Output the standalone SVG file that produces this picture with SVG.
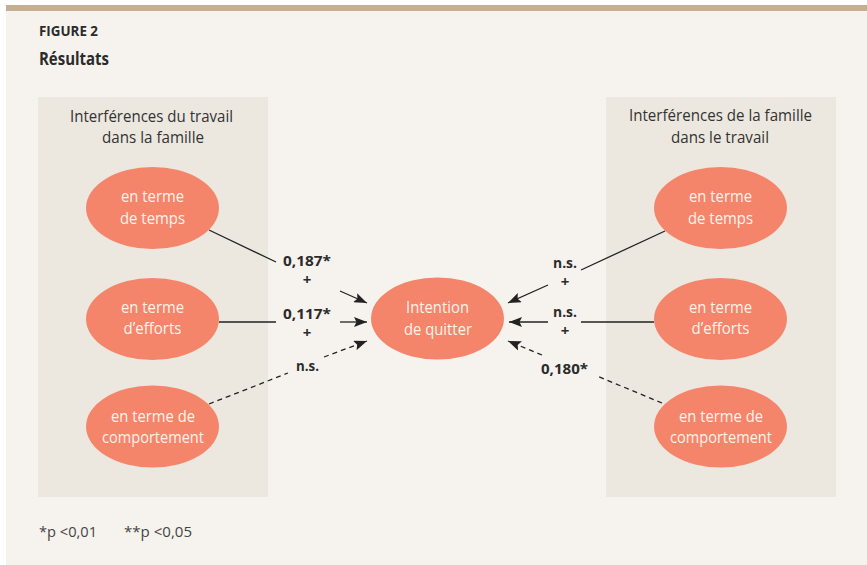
<svg xmlns="http://www.w3.org/2000/svg" width="867" height="565" viewBox="0 0 867 565">
<style>
text{font-family:"Open Sans","Noto Sans","Liberation Sans",sans-serif}
.hd{font-weight:bold;fill:#2b2b2b}
.ttl{font-size:17px;fill:#333333;text-anchor:middle}
.box{fill:#ece8df}
.el{fill:#f5856a}
.et{font-size:16.5px;fill:#fff4ec;text-anchor:middle}
.lb{font-size:14.5px;font-weight:bold;fill:#2b2b2b;text-anchor:middle}
.pl{font-size:15px;font-weight:bold;fill:#2b2b2b;text-anchor:middle}
.ln{stroke:#222;stroke-width:1.3;fill:none}
.ds{stroke-dasharray:5,4}
.ft{font-size:15px;fill:#444}
</style>
<defs>
<marker id="ah" viewBox="0 0 13 10" refX="13" refY="5" markerWidth="13" markerHeight="10" markerUnits="userSpaceOnUse" orient="auto">
<path d="M0,0 L13,5 L0,10 L2.5,5 z" fill="#222"/>
</marker>
</defs>
<rect x="0" y="0" width="867" height="565" fill="#ffffff"/>
<rect x="6" y="11" width="861" height="554" fill="#f6f3ee"/>
<rect x="6" y="5" width="861" height="6" fill="#c5ae91"/>
<text class="hd" x="39" y="36" font-size="14" textLength="59" lengthAdjust="spacingAndGlyphs">FIGURE 2</text>
<text class="hd" x="39" y="65" font-size="17.5" textLength="70" lengthAdjust="spacingAndGlyphs">Résultats</text>
<g id="box-left">
<rect class="box" x="38" y="97" width="230" height="400"/>
<text class="ttl" x="151.5" y="122" textLength="163" lengthAdjust="spacingAndGlyphs">Interférences du travail</text>
<text class="ttl" x="153" y="143" textLength="102" lengthAdjust="spacingAndGlyphs">dans la famille</text>
</g>
<g id="box-right">
<rect class="box" x="606" y="97" width="230" height="400"/>
<text class="ttl" x="720.5" y="121" textLength="183" lengthAdjust="spacingAndGlyphs">Interférences de la famille</text>
<text class="ttl" x="720" y="143" textLength="98" lengthAdjust="spacingAndGlyphs">dans le travail</text>
</g>
<g id="connectors">
<line class="ln" x1="209" y1="230" x2="276" y2="262"/>
<line class="ln" x1="340" y1="291" x2="367" y2="303" marker-end="url(#ah)"/>
<line class="ln" x1="219" y1="322" x2="276" y2="322"/>
<line class="ln" x1="340" y1="322" x2="367" y2="322" marker-end="url(#ah)"/>
<line class="ln ds" x1="209" y1="404" x2="288" y2="373"/>
<line class="ln ds" x1="324" y1="357" x2="367" y2="341" marker-end="url(#ah)"/>
<line class="ln" x1="665" y1="231" x2="581" y2="270"/>
<line class="ln" x1="548" y1="285" x2="508" y2="303" marker-end="url(#ah)"/>
<line class="ln" x1="654" y1="322" x2="581" y2="322"/>
<line class="ln" x1="548" y1="322" x2="509" y2="322" marker-end="url(#ah)"/>
<line class="ln ds" x1="662" y1="403" x2="597" y2="376"/>
<line class="ln ds" x1="542" y1="355" x2="508" y2="341" marker-end="url(#ah)"/>
<text class="lb" x="307" y="266" textLength="48" lengthAdjust="spacingAndGlyphs">0,187*</text>
<text class="pl" x="307" y="285">+</text>
<text class="lb" x="307" y="319" textLength="48" lengthAdjust="spacingAndGlyphs">0,117*</text>
<text class="pl" x="307" y="337.5">+</text>
<text class="lb" x="307.5" y="371" textLength="23" lengthAdjust="spacingAndGlyphs">n.s.</text>
<text class="lb" x="565" y="268" textLength="24" lengthAdjust="spacingAndGlyphs">n.s.</text>
<text class="pl" x="565" y="287">+</text>
<text class="lb" x="565" y="317" textLength="24" lengthAdjust="spacingAndGlyphs">n.s.</text>
<text class="pl" x="565" y="335.5">+</text>
<text class="lb" x="564.5" y="374" textLength="47" lengthAdjust="spacingAndGlyphs">0,180*</text>
</g>
<g id="left-temps">
<ellipse class="el" cx="152.5" cy="208" rx="66.5" ry="41"/>
<text class="et" x="152.5" y="202" textLength="63" lengthAdjust="spacingAndGlyphs">en terme</text>
<text class="et" x="152.5" y="223.5" textLength="65" lengthAdjust="spacingAndGlyphs">de temps</text>
</g>
<g id="left-efforts">
<ellipse class="el" cx="152.5" cy="319" rx="66.5" ry="41"/>
<text class="et" x="152.5" y="313" textLength="63" lengthAdjust="spacingAndGlyphs">en terme</text>
<text class="et" x="152.5" y="334" textLength="58" lengthAdjust="spacingAndGlyphs">d’efforts</text>
</g>
<g id="left-comportement">
<ellipse class="el" cx="152.5" cy="426.5" rx="66.5" ry="41"/>
<text class="et" x="153" y="422" textLength="84" lengthAdjust="spacingAndGlyphs">en terme de</text>
<text class="et" x="153" y="443" textLength="102" lengthAdjust="spacingAndGlyphs">comportement</text>
</g>
<g id="intention">
<ellipse class="el" cx="437.5" cy="318.5" rx="66.5" ry="41"/>
<text class="et" x="437.5" y="313" textLength="63" lengthAdjust="spacingAndGlyphs">Intention</text>
<text class="et" x="438" y="335" textLength="68" lengthAdjust="spacingAndGlyphs">de quitter</text>
</g>
<g id="right-temps">
<ellipse class="el" cx="720.5" cy="208" rx="66.5" ry="41"/>
<text class="et" x="720.5" y="202" textLength="63" lengthAdjust="spacingAndGlyphs">en terme</text>
<text class="et" x="720.5" y="223.5" textLength="65" lengthAdjust="spacingAndGlyphs">de temps</text>
</g>
<g id="right-efforts">
<ellipse class="el" cx="720.5" cy="319" rx="66.5" ry="41"/>
<text class="et" x="720.5" y="313" textLength="63" lengthAdjust="spacingAndGlyphs">en terme</text>
<text class="et" x="720.5" y="334" textLength="58" lengthAdjust="spacingAndGlyphs">d’efforts</text>
</g>
<g id="right-comportement">
<ellipse class="el" cx="720.5" cy="426.5" rx="66.5" ry="41"/>
<text class="et" x="721" y="422" textLength="84" lengthAdjust="spacingAndGlyphs">en terme de</text>
<text class="et" x="721" y="443" textLength="102" lengthAdjust="spacingAndGlyphs">comportement</text>
</g>
<text class="ft" x="39" y="537" textLength="58" lengthAdjust="spacingAndGlyphs">*p &lt;0,01</text>
<text class="ft" x="124" y="537" textLength="68" lengthAdjust="spacingAndGlyphs">**p &lt;0,05</text>
</svg>
